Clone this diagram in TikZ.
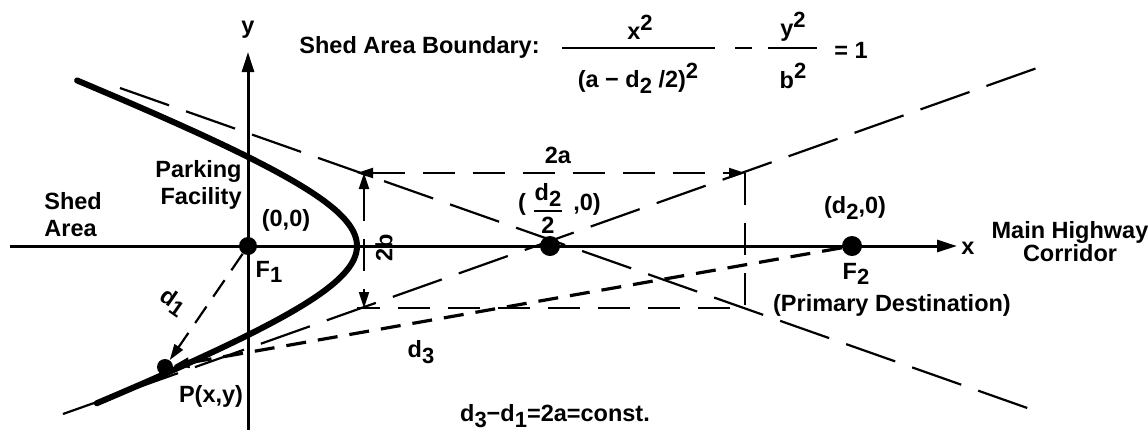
\documentclass[tikz,border=0pt]{standalone}
\usepackage{fontspec}
\setmainfont{Liberation Sans}
\usetikzlibrary{arrows.meta}
\newcommand\lsub[1]{\raisebox{-0.45ex}{\fontsize{11}{12}\selectfont #1}}
\newcommand\lsup[1]{\raisebox{0.75ex}{\fontsize{11}{12}\selectfont #1}}
\begin{document}
\begin{tikzpicture}[x=0.5pt,y=-0.5pt,
  font=\fontsize{11.75}{13.5}\selectfont\bfseries,
  lbl/.style={inner sep=1pt},
  axisline/.style={line width=1.5pt},
  curveline/.style={line width=3pt, line cap=round},
  asym/.style={line width=1.1pt, dash pattern=on 26pt off 9pt},
  rectline/.style={line width=1pt, dash pattern=on 16pt off 9pt},
  distline/.style={line width=1.1pt, dash pattern=on 10pt off 6pt},
  dthree/.style={line width=1.6pt, dash pattern=on 10pt off 6pt},
  dot/.style={circle, fill=black, inner sep=0pt},
  tip/.style={-{Triangle[length=10pt,width=6pt]}},
  dtip/.style={{Triangle[length=8pt,width=5pt]}-{Triangle[length=8pt,width=5pt]}},
  stip/.style={-{Triangle[length=8pt,width=5pt]}}
]
\useasboundingbox (0,0) rectangle (1148,441);
% axes
\coordinate (xl) at (10,246);
\coordinate (xr) at (957,246);
\coordinate (yb) at (248,430);
\coordinate (yt) at (248,52);
\draw[axisline, tip] (xl) -- (xr);
\draw[axisline, tip] (yb) -- (yt);
% asymptotes
\coordinate (A1) at (120,88);
\coordinate (A2) at (1033,410);
\coordinate (A3) at (63,414);
\coordinate (A4) at (1037,68);
\draw[asym] (A1) -- (A2);
\draw[asym] (A3) -- (A4);
% rectangle / 2a / 2b
\coordinate (r1) at (357,173);
\coordinate (r2) at (745,173);
\coordinate (r3) at (745,308);
\coordinate (r4) at (357,308);
\coordinate (b1) at (364,173);
\coordinate (b2) at (364,308);
\draw[rectline, dtip] (r1) -- (r2);
\draw[rectline] (r2) -- (r3) -- (r4);
\draw[rectline, dtip] (b1) -- (b2);
% hyperbola branch
\draw[curveline] plot[variable=\t, domain=-1.545:1.50, samples=120, smooth]
  ({550-193*cosh(\t)}, {246+74*sinh(\t)});
% points
\node[dot, minimum size=9pt] (F1) at (248,246) {};
\node[dot, minimum size=10pt] (C) at (550,246) {};
\node[dot, minimum size=10pt] (F2) at (852,246) {};
\node[dot, minimum size=8pt] (P) at (165,367) {};
% distances
\draw[distline, stip] (F1) -- (P);
\draw[dthree, stip] (F2) -- (P);
% formula
\node[lbl, anchor=base west] (title) at (297,53) {Shed Area Boundary:};
\node[lbl] (n1) at (640,27) {x\lsup{2}};
\node[lbl] (d1n) at (638,78) {(a − d\lsub{2} /2)\lsup{2}};
\coordinate (fa) at (562,48);
\coordinate (fb) at (715,48);
\draw[line width=1.2pt] (fa) -- (fb);
\coordinate (ma) at (735,48);
\coordinate (mb) at (752,48);
\draw[line width=1.2pt] (ma) -- (mb);
\node[lbl] (n2) at (793,27) {y\lsup{2}};
\node[lbl] (d2n) at (793,76) {b\lsup{2}};
\coordinate (ga) at (768,48);
\coordinate (gb) at (817,48);
\draw[line width=1.2pt] (ga) -- (gb);
\node[lbl] (eq) at (851,50) {= 1};
% labels
\node[lbl] (ylab) at (248,30) {y};
\node[lbl, align=left, anchor=west] (shed) at (42,215) {Shed\\Area};
\node[lbl, align=right, anchor=east] (park) at (244,185) {Parking\\Facility};
\node[lbl] (orig) at (286,220) {(0,0)};
\node[lbl] (F1lab) at (269,272) {F\lsub{1}};
\node[lbl, rotate=-35, inner sep=0pt] (d1lab) at (173,302) {d\lsub{1}};
\node[lbl] (Plab) at (211,396) {P(x,y)};
\node[lbl] (d3lab) at (421,352) {d\lsub{3}};
\node[lbl] (twoa) at (558,155) {2a};
\node[lbl, rotate=90] (twob) at (384,248) {2b};
\node[lbl] (cl) at (522,204) {(};
\node[lbl] (cnum) at (548,195) {d\lsub{2}};
\coordinate (ca) at (534,211);
\coordinate (cb) at (562,211);
\draw[line width=1pt] (ca) -- (cb);
\node[lbl] (cden) at (548,225) {2};
\node[lbl] (cr) at (587,204) {,0)};
\node[lbl] (F2pos) at (855,208) {(d\lsub{2},0)};
\node[lbl] (F2lab) at (856,274) {F\lsub{2}};
\node[lbl] (prim) at (892,305) {(Primary Destination)};
\node[lbl] (xlab) at (968,248) {x};
\node[lbl, align=center] (main) at (1070,242) {Main Highway\\[-2pt]Corridor};
\node[lbl] (rel) at (555,416) {d\lsub{3}−d\lsub{1}=2a=const.};
\end{tikzpicture}
\end{document}
